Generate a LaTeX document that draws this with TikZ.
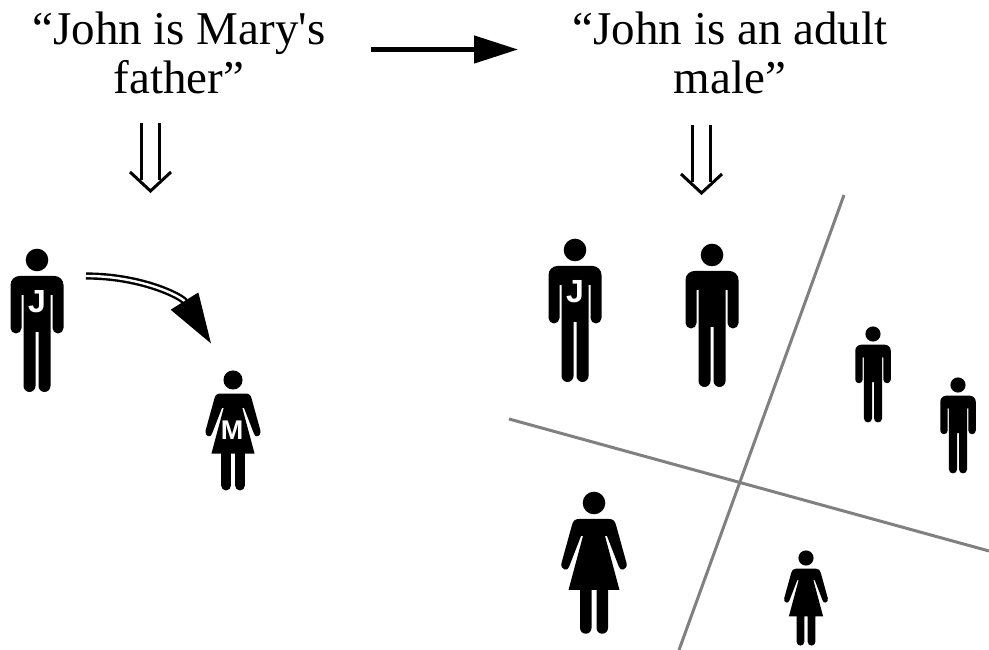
\documentclass[tikz,border=0pt]{standalone}
\usepackage{fontspec}
\newfontfamily\quotefont{Liberation Serif}
\newfontfamily\badgefont{Liberation Sans}
\usetikzlibrary{arrows.meta}
\tikzset{
  man/.pic={
    \fill (0,0) circle (11.3);
    \fill (-17.5,-16) -- (17.5,-16) arc[start angle=90,end angle=0,radius=9]
      -- (26.5,-68) arc[start angle=0,end angle=-180,radius=5.5]
      -- (15.5,-35) -- (13.5,-35) -- (13.5,-126) arc[start angle=0,end angle=-180,radius=6]
      -- (1.5,-72) -- (-1.5,-72) -- (-1.5,-126) arc[start angle=0,end angle=-180,radius=6]
      -- (-13.5,-35) -- (-15.5,-35) -- (-15.5,-68) arc[start angle=0,end angle=-180,radius=5.5]
      -- (-26.5,-25) arc[start angle=180,end angle=90,radius=9] -- cycle;
  },
  woman/.pic={
    \fill (0,0) circle (11.3);
    \fill (-15,-16) -- (15,-16) .. controls (19,-16) and (21,-18) .. (22,-22)
      -- (32.5,-60) .. controls (34,-67) and (26,-69) .. (24.8,-63.5)
      -- (13,-33) -- (11,-33) -- (25.5,-87) -- (14,-87) -- (14,-125)
      arc[start angle=0,end angle=-180,radius=5.75]
      -- (2.5,-87) -- (-2.5,-87) -- (-2.5,-125) arc[start angle=0,end angle=-180,radius=5.75]
      -- (-14,-87) -- (-25.5,-87) -- (-11,-33) -- (-13,-33) -- (-24.8,-63.5)
      .. controls (-26,-69) and (-34,-67) .. (-32.5,-60)
      -- (-22,-22) .. controls (-21,-18) and (-19,-16) .. (-15,-16) -- cycle;
  },
  quote/.style={align=center,font=\quotefont\fontsize{47}{49}\selectfont,inner sep=0pt},
  badge/.style={text=white,font=\badgefont\bfseries\fontsize{#1}{#1}\selectfont,inner sep=0pt},
  entails/.style={double,double distance=14.5pt,line width=3pt},
  entailhead/.style={line width=3pt,line join=miter},
  divider/.style={line width=3pt,draw=black!50},
}
\begin{document}
\begin{tikzpicture}[x=1pt,y=1pt]
\useasboundingbox (0,0) rectangle (989,650);
\node[quote] (premise) at (179,597) {“John is Mary's\\father”};
\node[quote] (conclusion) at (730,597) {“John is an adult\\male”};
\coordinate (premisefoot) at (150.5,527);
\coordinate (premiseneck) at (150.5,470);
\coordinate (premisetip) at (150.5,459);
\coordinate (conclusionfoot) at (701.5,525);
\coordinate (conclusionneck) at (701.5,468);
\coordinate (conclusiontip) at (701.5,457);
\draw[line width=4.6pt,-{Triangle[length=44pt,width=27pt]}] (370.5,600.5) coordinate (implfrom) -- (518,600.5) coordinate (implto);
\draw[entails] (premisefoot) -- (premiseneck);
\draw[entailhead] (premisetip) ++(-20.5,19) -- (premisetip) -- ++(20.5,19);
\draw[entails] (conclusionfoot) -- (conclusionneck);
\draw[entailhead] (conclusiontip) ++(-20.5,19) -- (conclusiontip) -- ++(20.5,19);
% left side
\pic at (37,390) {man};
\node[badge=32] (johnbadge) at (37,348) {J};
\pic[scale=.845] at (233,270) {woman};
\node[badge=27] (marybadge) at (232,220) {M};
\coordinate (fatherfrom) at (86,374);
\coordinate (fatherto) at (211,306.5);
\draw[double,double distance=2.4pt,line width=2.4pt,-{Triangle[length=50pt,width=32pt]}] (fatherfrom) to[out=0,in=122] (fatherto);
% right side
\coordinate (northend) at (844,455);
\coordinate (southend) at (679,0);
\coordinate (westend) at (509,231);
\coordinate (eastend) at (989,99);
\draw[divider] (northend) -- (southend);
\draw[divider] (westend) -- (eastend);
\pic at (575,400) {man};
\node[badge=32] (johnbadgeb) at (575,358) {J};
\pic at (712,395) {man};
\pic[scale=.67] at (873,316) {man};
\pic[scale=.67] at (958,265) {man};
\pic at (594,147) {woman};
\pic[scale=.67] at (806,92) {woman};
\end{tikzpicture}
\end{document}
